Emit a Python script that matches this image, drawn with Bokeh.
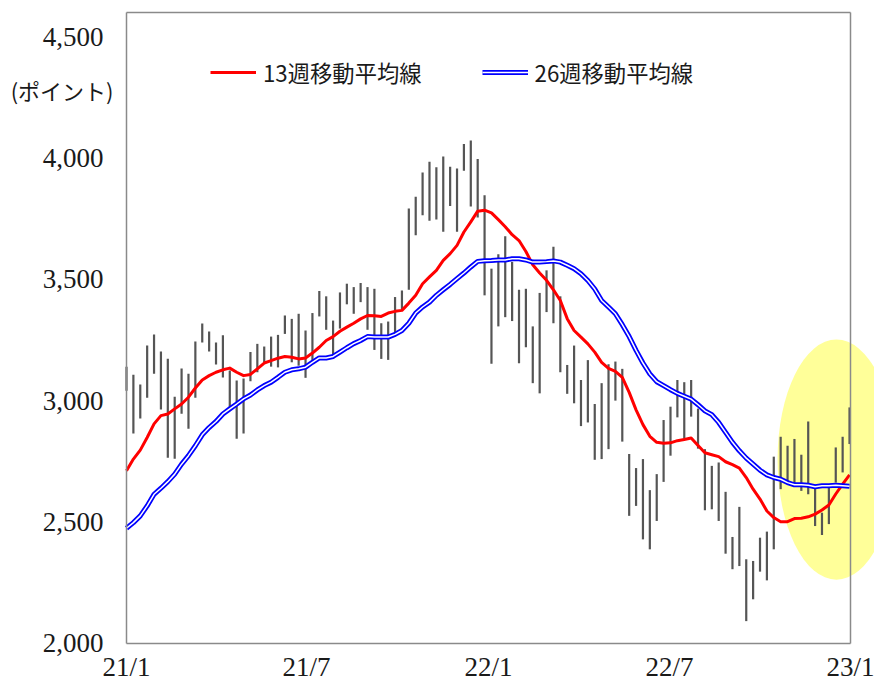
from bokeh.plotting import figure
from bokeh.models import (ColumnDataSource, FixedTicker, Range1d, LinearAxis,
                          Legend, LegendItem, NumeralTickFormatter)
from bokeh.core.properties import value
from bokeh.embed import file_html
from bokeh.resources import INLINE

# ---------------- data ----------------
week = list(range(106))

high = [3140, 3107, 3066, 3227, 3273, 3202, 3173, 3016, 3132, 3111,
        3244, 3318, 3285, 3240, 3269, 3124, 3083, 3091, 3200, 3234,
        3223, 3264, 3271, 3351, 3337, 3358, 3289, 3361, 3452, 3430,
        3330, 3446, 3482, 3468, 3485, 3468, 3461, 3319, 3326, 3427,
        3454, 3792, 3840, 3940, 3985, 3962, 4006, 3964, 3957, 4058,
        4072, 3996, 3847, 3544, 3603, 3678, 3572, 3457, 3461, 3306,
        3444, 3537, 3634, 3430, 3147, 3227, 3085, 3167, 2986, 3072,
        3150, 3161, 3131, 2780, 2722, 2759, 2631, 2697, 2920, 2975,
        3085, 3076, 3085, 2967, 2800, 2731, 2745, 2624, 2438, 2562,
        2346, 2339, 2435, 2460, 2769, 2851, 2814, 2842, 2777, 2914,
        2649, 2538, 2653, 2807, 2851, 2972]

low = [3041, 2864, 2926, 3012, 3111, 2963, 2764, 2760, 2946, 2884,
       3012, 3240, 3202, 3149, 3095, 2971, 2843, 2864, 3080, 3117,
       3158, 3140, 3137, 3275, 3158, 3144, 3094, 3165, 3347, 3292,
       3172, 3297, 3397, 3358, 3406, 3292, 3209, 3172, 3168, 3282,
       3372, 3457, 3682, 3764, 3741, 3747, 3696, 3802, 3696, 3948,
       3800, 3755, 3434, 3152, 3306, 3344, 3328, 3154, 3220, 3072,
       3030, 3365, 3319, 3117, 3028, 2989, 2895, 2910, 2756, 2759,
       2800, 3000, 2831, 2525, 2566, 2428, 2387, 2504, 2665, 2773,
       2931, 2842, 2934, 2802, 2548, 2552, 2504, 2369, 2305, 2318,
       2091, 2181, 2295, 2259, 2387, 2635, 2656, 2656, 2628, 2614,
       2483, 2446, 2491, 2662, 2704, 2821]

ma13 = [2711, 2759, 2796, 2848, 2904, 2938, 2945, 2966, 2986, 3014,
        3052, 3085, 3103, 3117, 3127, 3134, 3117, 3103, 3108, 3131,
        3155, 3165, 3175, 3182, 3179, 3172, 3176, 3196, 3220, 3248,
        3264, 3286, 3303, 3319, 3337, 3351, 3350, 3347, 3361, 3368,
        3372, 3402, 3434, 3482, 3510, 3537, 3578, 3606, 3640, 3695,
        3737, 3781, 3785, 3774, 3746, 3717, 3684, 3660, 3615, 3560,
        3526, 3496, 3457, 3413, 3338, 3289, 3262, 3234, 3200, 3158,
        3133, 3121, 3096, 3034, 2962, 2901, 2853, 2828, 2824, 2826,
        2835, 2840, 2846, 2815, 2785, 2777, 2769, 2748, 2736, 2722,
        2683, 2635, 2594, 2545, 2518, 2501, 2501, 2514, 2515, 2521,
        2532, 2549, 2570, 2615, 2656, 2694]

ma26 = [2474, 2497, 2525, 2566, 2614, 2639, 2666, 2697, 2738, 2773,
        2814, 2859, 2889, 2914, 2945, 2966, 2986, 3007, 3023, 3044,
        3062, 3076, 3096, 3117, 3127, 3131, 3138, 3158, 3176, 3176,
        3182, 3200, 3218, 3235, 3248, 3264, 3262, 3262, 3262, 3273,
        3289, 3319, 3361, 3386, 3406, 3434, 3457, 3479, 3503, 3526,
        3551, 3574, 3577, 3578, 3580, 3580, 3585, 3585, 3580, 3571,
        3571, 3573, 3576, 3571, 3558, 3544, 3523, 3495, 3460, 3413,
        3386, 3358, 3313, 3264, 3207, 3155, 3110, 3078, 3062, 3045,
        3030, 3018, 3006, 2983, 2958, 2942, 2910, 2869, 2828, 2793,
        2763, 2738, 2713, 2694, 2683, 2676, 2662, 2653, 2653, 2651,
        2645, 2649, 2649, 2651, 2649, 2647]

x_tick_pos = [0, 26.14, 52.57, 78.86, 105.14]
x_tick_labels = ["21/1", "21/7", "22/1", "22/7", "23/1"]
y_ticks = [2000, 2500, 3000, 3500, 4000, 4500]
series_names = ["13週移動平均線", "26週移動平均線"]
unit_label = "(ポイント)"
unit_label_y = 4280

# highlight ellipse (center week, center value, width in weeks, height in points)
hl_x, hl_y, hl_w, hl_h = 103.1, 2757, 17.1, 990

# ---------------- layout constants ----------------
X_START, X_END_BORDER = 0, 105.2        # plot-area box, in weeks
Y_MIN, Y_MAX = 2000, 4600               # plot-area box, in points
GREY = "#8a8a8a"
SERIF = "Liberation Serif"
CJK = "Noto Sans CJK JP"
PX_PER_WEEK = 6.886
PTS_PER_PX = 2600 / 630.7

p = figure(width=874, height=684, output_backend="svg", toolbar_location=None,
           x_range=Range1d(-126 / PX_PER_WEEK, (874 - 126) / PX_PER_WEEK),
           y_range=Range1d(Y_MIN - 41.3 * PTS_PER_PX, Y_MAX + 12 * PTS_PER_PX),
           min_border_left=0, min_border_right=0, min_border_top=0, min_border_bottom=0,
           x_axis_type=None, y_axis_type=None)
p.outline_line_color = None
p.background_fill_color = "white"
p.border_fill_color = "white"
p.xgrid.visible = False
p.ygrid.visible = False

# highlight
p.ellipse(x=[hl_x], y=[hl_y], width=hl_w, height=hl_h,
          fill_color="#FFFF99", line_color=None)

# high-low bars
src = ColumnDataSource(dict(x=week, high=high, low=low, ma13=ma13, ma26=ma26))
p.segment(x0="x", y0="low", x1="x", y1="high", source=src,
          line_color="#555555", line_width=2.2)

# moving averages
r13 = p.line("x", "ma13", source=src, line_color="#FF0000", line_width=3, line_join="round")
r26a = p.line("x", "ma26", source=src, line_color="#0000FF", line_width=5, line_join="round")
r26b = p.line("x", "ma26", source=src, line_color="white", line_width=1.5, line_join="round")


def style_axis(ax):
    ax.major_tick_in = 0
    ax.major_tick_out = 0
    ax.minor_tick_in = 0
    ax.minor_tick_out = 0
    ax.axis_line_color = GREY
    ax.axis_line_width = 1.5
    ax.major_label_text_color = "#1a1a1a"
    ax.major_label_text_font = SERIF
    ax.major_label_text_font_size = "27px"


# left axis (drawn at the plot-area edge)
yaxis = LinearAxis(ticker=FixedTicker(ticks=y_ticks), formatter=NumeralTickFormatter(format="0,0"),
                   fixed_location=X_START, bounds=(Y_MIN, Y_MAX))
style_axis(yaxis)
yaxis.major_label_standoff = 23
p.add_layout(yaxis, "left")

# bottom axis
xaxis = LinearAxis(ticker=FixedTicker(ticks=x_tick_pos), fixed_location=Y_MIN,
                   bounds=(X_START, X_END_BORDER),
                   major_label_overrides={pos: lab for pos, lab in zip(x_tick_pos, x_tick_labels)})
style_axis(xaxis)
xaxis.major_label_standoff = 9
p.add_layout(xaxis, "below")

# top and right borders of the plot area
topaxis = LinearAxis(ticker=FixedTicker(ticks=[]), fixed_location=Y_MAX, bounds=(X_START, X_END_BORDER))
style_axis(topaxis)
p.add_layout(topaxis, "above")
rightaxis = LinearAxis(ticker=FixedTicker(ticks=[]), fixed_location=X_END_BORDER, bounds=(Y_MIN, Y_MAX))
style_axis(rightaxis)
p.add_layout(rightaxis, "right")

# unit label
p.text(x=[X_START], y=[unit_label_y], text=[unit_label], x_offset=-13, text_align="right",
       text_baseline="middle", text_font=value(CJK), text_font_size="22px",
       text_color="#1a1a1a")

# legend
legend = Legend(items=[LegendItem(label=series_names[0], renderers=[r13]),
                       LegendItem(label=series_names[1], renderers=[r26a, r26b])],
                orientation="horizontal", location=(210, 596))
legend.padding = 0
legend.margin = 0
legend.spacing = 60
legend.glyph_width = 46
legend.glyph_height = 20
legend.label_standoff = 7
legend.label_text_font = CJK
legend.label_text_font_size = "22.3px"
legend.label_text_color = "#1a1a1a"
legend.border_line_color = None
legend.background_fill_alpha = 0
p.add_layout(legend)

open("out.html", "w").write(file_html(p, INLINE))
